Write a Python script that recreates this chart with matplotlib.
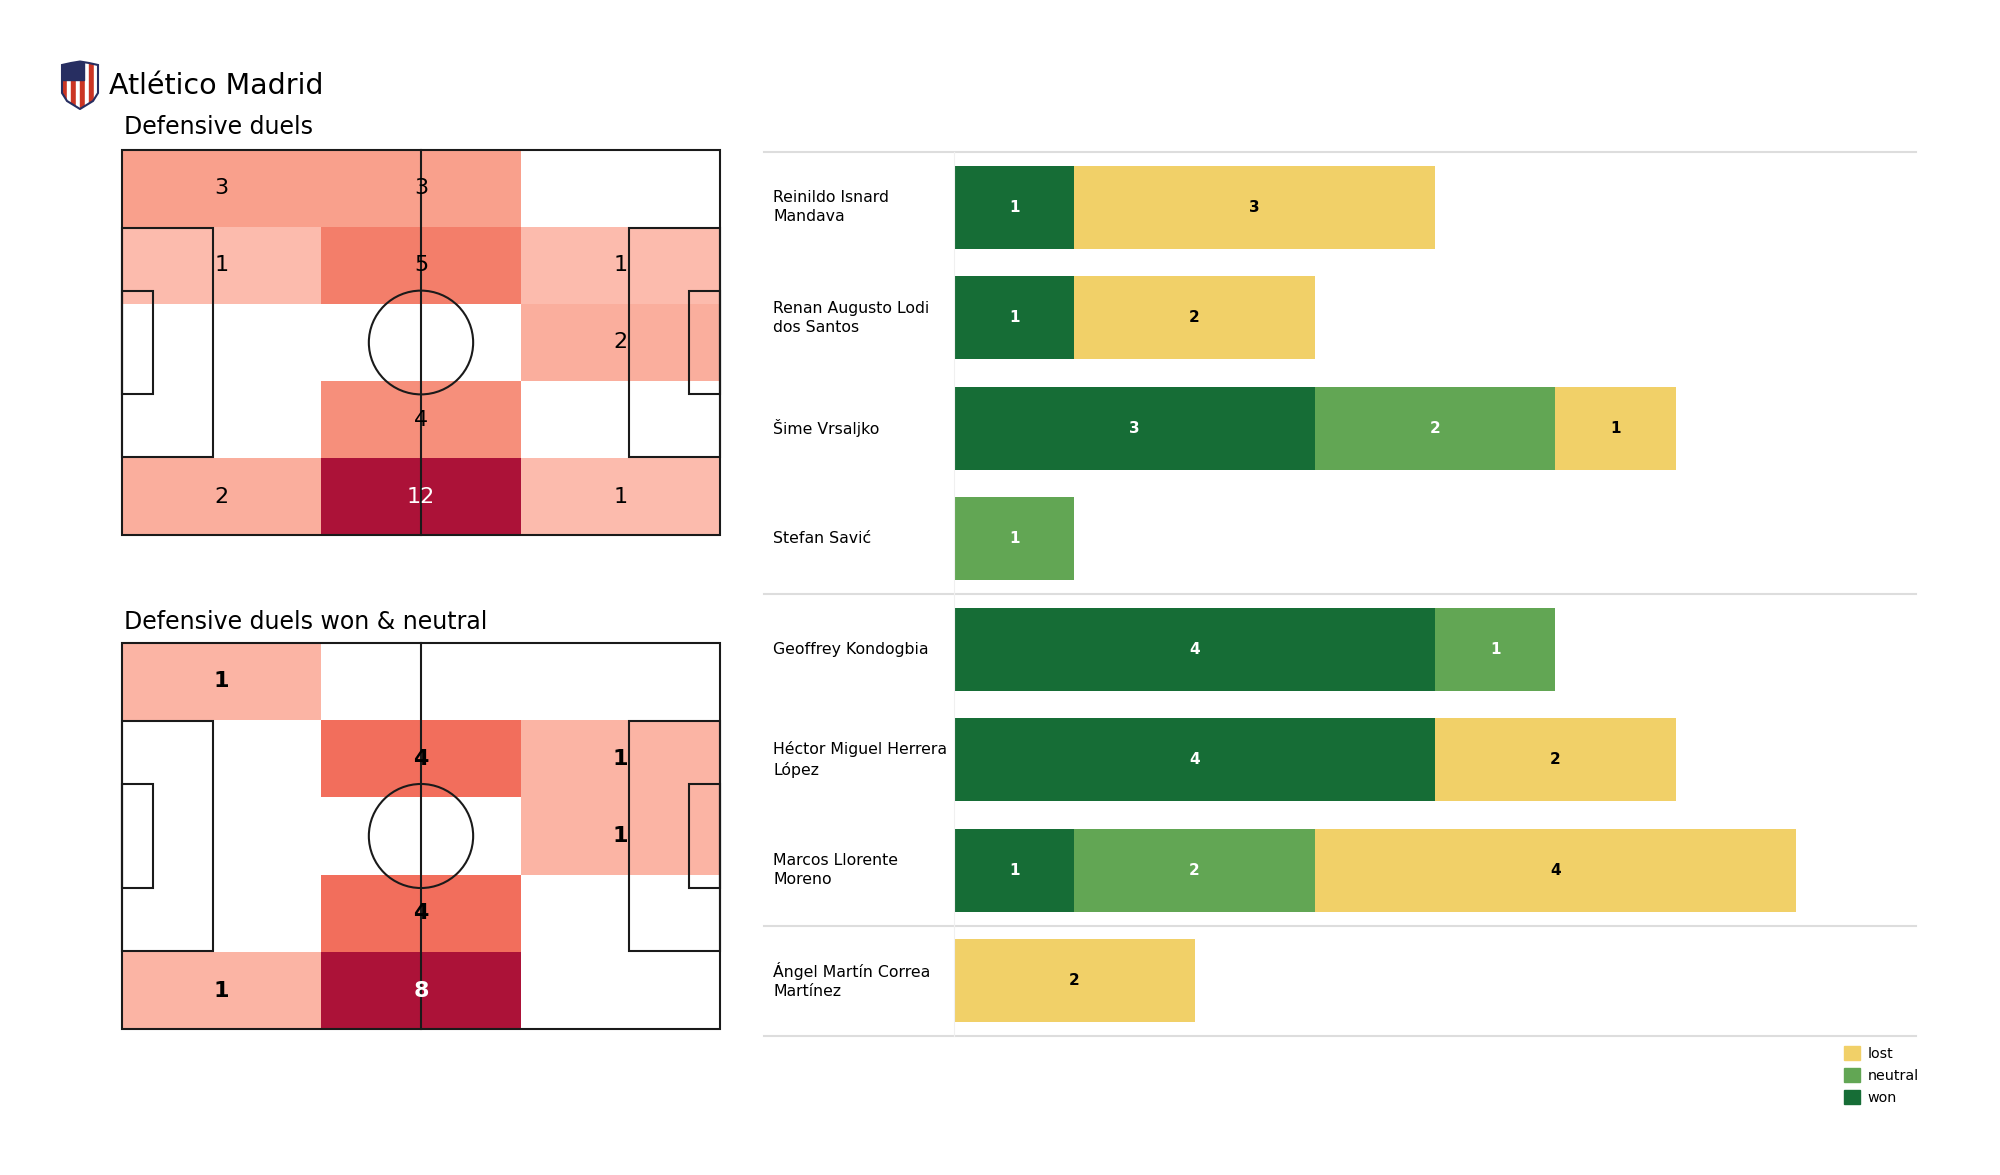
import textwrap
import numpy as np
import matplotlib
matplotlib.use("Agg")
import matplotlib.pyplot as plt
from matplotlib.patches import Rectangle, Circle, Polygon, Patch
from matplotlib.colors import LinearSegmentedColormap

# player duel counts
players = ["Reinildo Isnard Mandava", "Renan Augusto Lodi dos Santos", "Šime Vrsaljko",
           "Stefan Savić", "Geoffrey Kondogbia", "Héctor Miguel Herrera López",
           "Marcos Llorente Moreno", "Ángel Martín Correa Martínez"]
won = [1, 1, 3, 0, 4, 4, 1, 0]
neutral = [0, 0, 2, 1, 1, 0, 2, 0]
lost = [3, 2, 1, 0, 0, 2, 4, 2]
group_starts = [0, 4, 7]

# zone counts, rows top -> bottom, cols left -> right
duels_grid = [[3, 3, 0],
              [1, 5, 1],
              [0, 0, 2],
              [0, 4, 0],
              [2, 12, 1]]
won_neutral_grid = [[1, 0, 0],
                    [0, 4, 1],
                    [0, 0, 1],
                    [0, 4, 0],
                    [1, 8, 0]]

team = "Atlético Madrid"

c_won = "#166d36"
c_neutral = "#62a654"
c_lost = "#f1d068"

heat = LinearSegmentedColormap.from_list(
    "heat", [(0.0, "#fdc8bd"), (0.25, "#f9a08c"), (0.42, "#f37d69"),
             (0.5, "#f26e5c"), (1.0, "#ac1238")])

W, H = 2000, 1175
fig = plt.figure(figsize=(20, 11.75), dpi=100)


def box(x0, y0, x1, y1):
    return [x0 / W, 1 - y1 / H, (x1 - x0) / W, (y1 - y0) / H]


def draw_pitch(ax, grid, bold):
    L, Wd = 105, 68
    g = np.array(grid, dtype=float)
    xe = np.linspace(0, L, g.shape[1] + 1)
    ye = np.linspace(0, Wd, g.shape[0] + 1)
    ax.pcolormesh(xe, ye, np.ma.masked_equal(g, 0), cmap=heat, vmin=0, vmax=g.max(), zorder=1)
    vmax = g.max()
    for i in range(g.shape[0]):
        for j in range(g.shape[1]):
            v = int(g[i, j])
            if v == 0:
                continue
            ax.text((xe[j] + xe[j + 1]) / 2, (ye[i] + ye[i + 1]) / 2, str(v),
                    ha="center", va="center", fontsize=16,
                    fontweight="bold" if bold else "normal",
                    color="white" if v > 0.6 * vmax else "black", zorder=3)
    lc, lw = "#1a1a1a", 1.5
    ax.add_patch(Rectangle((0, 0), L, Wd, fill=False, ec=lc, lw=lw, zorder=2))
    ax.plot([L / 2, L / 2], [0, Wd], color=lc, lw=lw, zorder=2)
    ax.add_patch(Circle((L / 2, Wd / 2), 9.15, fill=False, ec=lc, lw=lw, zorder=2))
    ax.add_patch(Rectangle((0, 13.84), 16, 40.32, fill=False, ec=lc, lw=lw, zorder=2))
    ax.add_patch(Rectangle((L - 16, 13.84), 16, 40.32, fill=False, ec=lc, lw=lw, zorder=2))
    ax.add_patch(Rectangle((0, 24.84), 5.5, 18.32, fill=False, ec=lc, lw=lw, zorder=2))
    ax.add_patch(Rectangle((L - 5.5, 24.84), 5.5, 18.32, fill=False, ec=lc, lw=lw, zorder=2))
    ax.set_xlim(-0.3, L + 0.3)
    ax.set_ylim(Wd + 0.3, -0.3)
    ax.axis("off")


ax1 = fig.add_axes(box(120, 148, 722, 537))
draw_pitch(ax1, duels_grid, False)
ax2 = fig.add_axes(box(120, 641, 722, 1031))
draw_pitch(ax2, won_neutral_grid, True)

fig.text(124 / W, 1 - 127 / H, "Defensive duels", fontsize=17, ha="left", va="center")
fig.text(124 / W, 1 - 622 / H, "Defensive duels won & neutral", fontsize=17, ha="left", va="center")
fig.text(109 / W, 1 - 86 / H, team, fontsize=20.5, ha="left", va="center")

# crest
axl = fig.add_axes(box(60, 60, 100, 110))
shield = [(2, 45), (11, 47), (20, 48.5), (29, 47), (38, 45), (38, 17), (33, 9), (20, 1),
          (7, 9), (2, 17)]
clip = Polygon(shield, closed=True, transform=axl.transData)
for k, x0 in enumerate(np.arange(2, 38, 4.5)):
    r = axl.add_patch(Rectangle((x0, 0), 4.5, 50, color="#cb3524" if k % 2 == 0 else "white"))
    r.set_clip_path(clip)
b = axl.add_patch(Polygon([(0, 50), (24, 50), (24, 30), (0, 30)], color="#272e61"))
b.set_clip_path(clip)
axl.add_patch(Polygon(shield, closed=True, fill=False, ec="#272e61", lw=1.5))
axl.set_xlim(0, 40)
axl.set_ylim(0, 50)
axl.axis("off")

# stacked bars
axb = fig.add_axes(box(954, 152, 1916, 1036))
y = np.arange(len(players))
left = np.zeros(len(players))
for vals, col, tc in [(won, c_won, "white"), (neutral, c_neutral, "white"), (lost, c_lost, "black")]:
    vals = np.array(vals)
    axb.barh(y, vals, left=left, height=0.75, color=col)
    for yi, v, l in zip(y, vals, left):
        if v > 0:
            axb.text(l + v / 2, yi, str(v), ha="center", va="center", fontsize=11,
                     fontweight="bold", color=tc)
    left = left + vals

for yi, name in zip(y, players):
    axb.text(-0.188, yi, textwrap.fill(name, 21), transform=axb.get_yaxis_transform(),
             ha="left", va="center", fontsize=11.3, linespacing=1.35)

for yl in [s - 0.5 for s in group_starts] + [len(players) - 0.5]:
    axb.plot([-0.197, 1], [yl, yl], transform=axb.get_yaxis_transform(), color="#dddddd",
             lw=1.5, clip_on=False)

axb.set_xlim(0, 8)
axb.set_ylim(len(players) - 0.5, -0.5)
for s in ["top", "right", "bottom"]:
    axb.spines[s].set_visible(False)
axb.spines["left"].set_color("#f0f0f0")
axb.set_xticks([])
axb.set_yticks([])

handles = [Patch(color=c_lost), Patch(color=c_neutral), Patch(color=c_won)]
fig.legend(handles, ["lost", "neutral", "won"], loc="upper left",
           bbox_to_anchor=(1831 / W, 1 - 1033 / H), frameon=False, fontsize=10.3,
           handlelength=1.15, handleheight=1.15, handletextpad=0.5, labelspacing=0.5)

fig.savefig("out.png", dpi=100, facecolor="white")
